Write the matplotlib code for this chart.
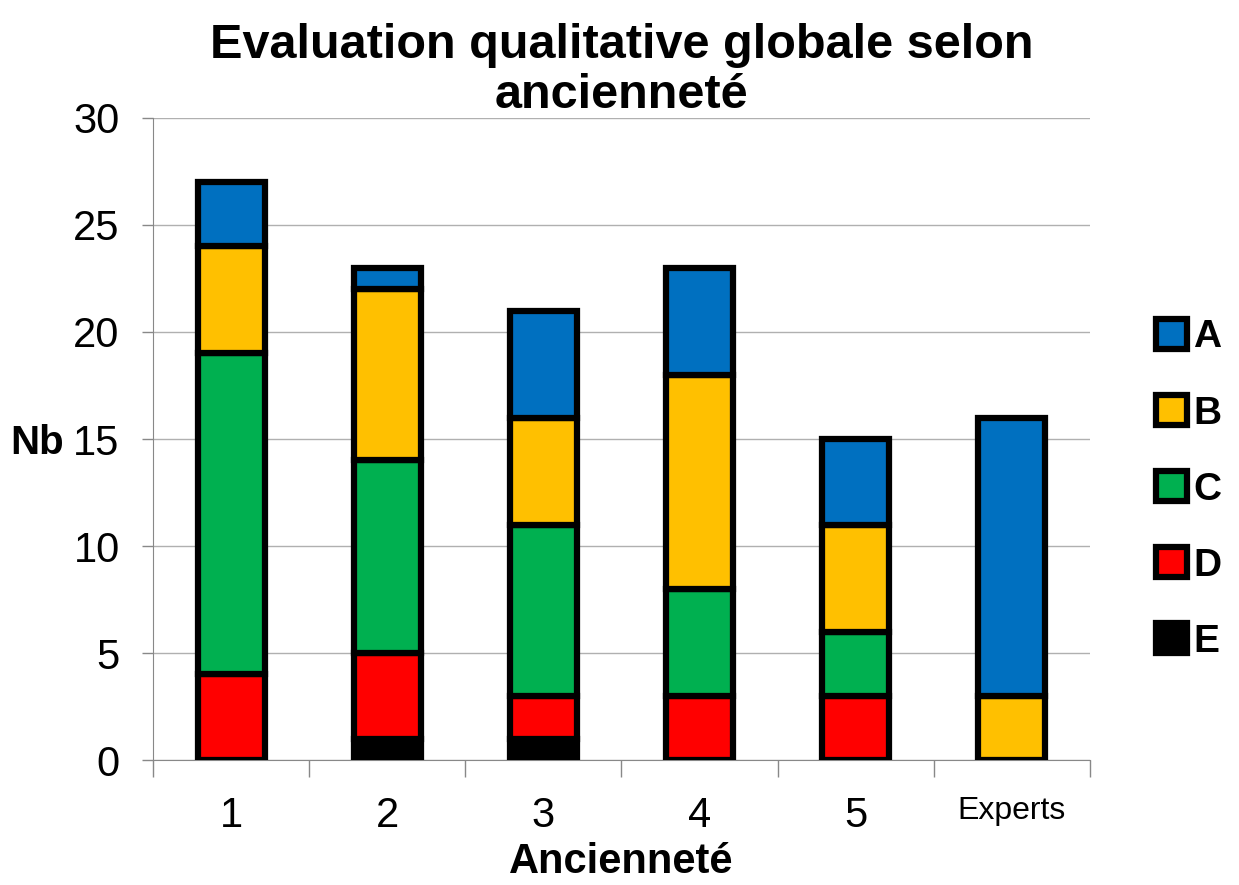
import numpy as np
import matplotlib.pyplot as plt

plt.rcParams['font.family'] = ['Liberation Sans', 'DejaVu Sans']

categories = ['1', '2', '3', '4', '5', 'Experts']
E = [0, 1, 1, 0, 0, 0]
D = [4, 4, 2, 3, 3, 0]
C = [15, 9, 8, 5, 3, 0]
B = [5, 8, 5, 10, 5, 3]
A = [3, 1, 5, 5, 4, 13]

series = [('E', E, '#000000'), ('D', D, '#ff0000'), ('C', C, '#00b050'),
          ('B', B, '#ffc000'), ('A', A, '#0070c0')]

fig = plt.figure(figsize=(12.39, 8.85), dpi=100)
ax = fig.add_axes([0.1235, 0.1412, 0.7562, 0.7255])

x = np.arange(len(categories))
bottom = np.zeros(len(categories))
handles = {}
for name, vals, col in series:
    h = ax.bar(x, vals, 0.43, bottom=bottom, color=col, edgecolor='black',
               linewidth=4.5, zorder=3, label=name)
    handles[name] = h
    bottom += np.array(vals)

ax.set_xlim(-0.5, len(categories) - 0.5)
ax.set_ylim(0, 30)
ax.set_yticks(range(0, 31, 5))
ax.tick_params(axis='y', labelsize=30, length=8, width=1, color='#888888', pad=16)
ax.yaxis.grid(True, color='#b0b0b0', linewidth=1, zorder=0)
ax.set_axisbelow(True)

ax.set_xticks(x)
ax.set_xticklabels(categories)
for i, lab in enumerate(ax.get_xticklabels()):
    lab.set_fontsize(23 if categories[i] == 'Experts' else 30)
ax.tick_params(axis='x', length=0, pad=26)
ax.set_xticks(np.arange(-0.5, len(categories), 1), minor=True)
ax.tick_params(axis='x', which='minor', length=12, width=1, color='#888888')

for s in ['top', 'right']:
    ax.spines[s].set_visible(False)
ax.spines['left'].set_color('#888888')
ax.spines['bottom'].set_color('#888888')

ax.set_title('Evaluation qualitative globale selon\nancienneté', fontsize=35,
             fontweight='bold', pad=6, linespacing=1.15)
ax.set_xlabel('Ancienneté', fontsize=30, fontweight='bold', labelpad=4)
fig.text(0.008, 0.5, 'Nb', fontsize=29, fontweight='bold', va='center')

order = ['A', 'B', 'C', 'D', 'E']
leg = fig.legend([handles[n] for n in order], order, loc='center left',
                 bbox_to_anchor=(0.905, 0.447), frameon=False,
                 prop={'size': 28, 'weight': 'bold'}, handlelength=0.8,
                 handleheight=0.8, handletextpad=0.15, labelspacing=1.02)

fig.savefig('out.png', dpi=100)
